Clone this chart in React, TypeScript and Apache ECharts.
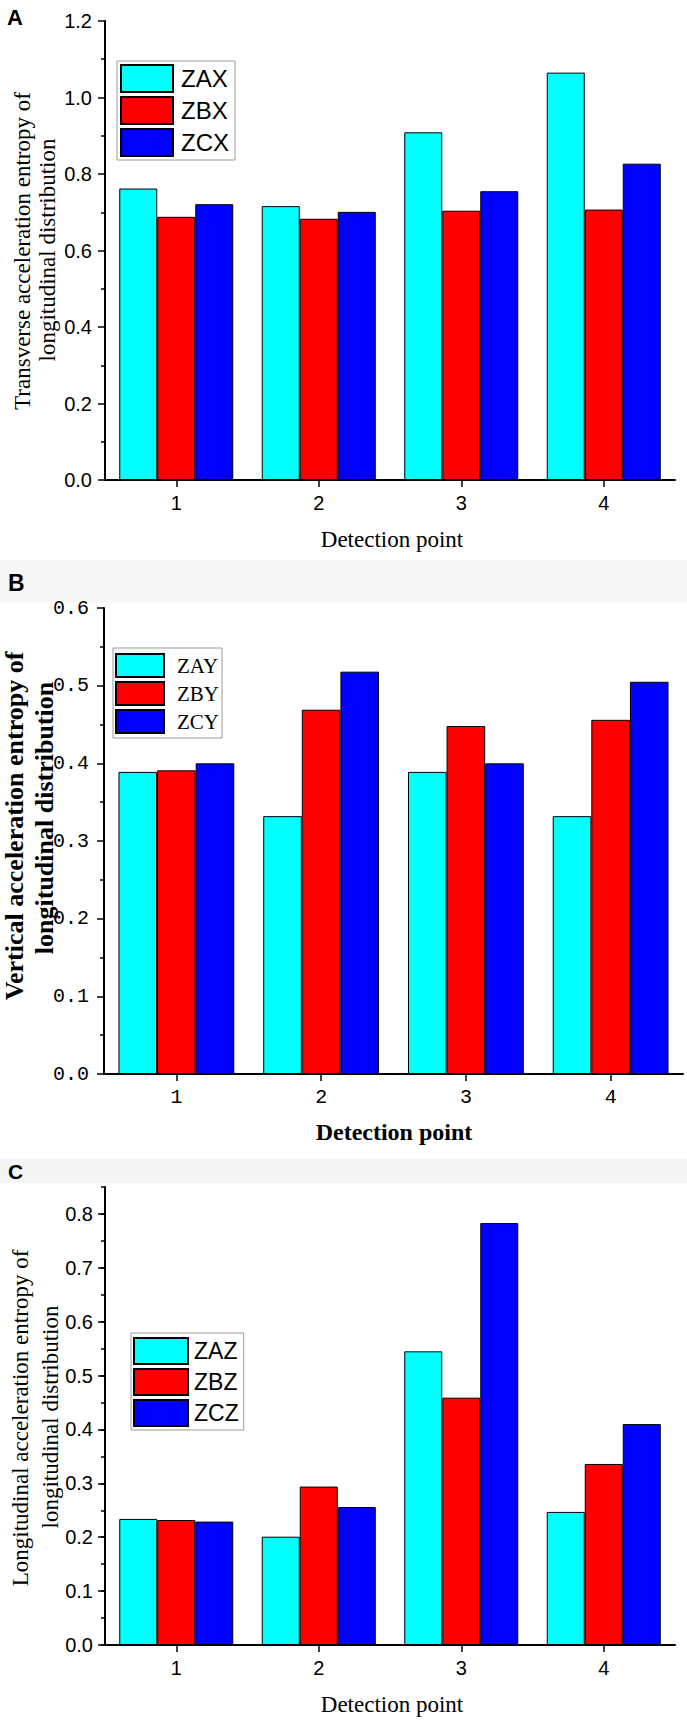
import React, { useEffect, useRef } from "react";
import * as echarts from "echarts";

// Detection points shared by the three panels
const detectionPoints = ["1", "2", "3", "4"];

// Panel A: transverse acceleration entropy
const transverseNames = ["ZAX", "ZBX", "ZCX"];
const zax = [0.762, 0.716, 0.909, 1.065];
const zbx = [0.688, 0.683, 0.704, 0.707];
const zcx = [0.721, 0.701, 0.755, 0.827];

// Panel B: vertical acceleration entropy
const verticalNames = ["ZAY", "ZBY", "ZCY"];
const zay = [0.389, 0.332, 0.389, 0.332];
const zby = [0.391, 0.469, 0.448, 0.456];
const zcy = [0.4, 0.518, 0.4, 0.505];

// Panel C: longitudinal acceleration entropy
const longitudinalNames = ["ZAZ", "ZBZ", "ZCZ"];
const zaz = [0.234, 0.201, 0.545, 0.247];
const zbz = [0.232, 0.294, 0.459, 0.336];
const zcz = [0.229, 0.256, 0.783, 0.41];

const barColors = ["#00ffff", "#ff0000", "#0000ff"];

const SANS = "Liberation Sans";
const SERIF = "Liberation Serif";
const MONO = "Liberation Mono";

const black = { color: "#000", width: 2 };
const thin = { color: "#000", width: 1.5 };

function categoryAxis(gridIndex: number, fontFamily: string, fontSize: number) {
  return {
    type: "category",
    gridIndex,
    data: detectionPoints,
    axisLine: { show: true, lineStyle: black },
    axisTick: { show: true, alignWithLabel: true, length: 7, lineStyle: thin },
    axisLabel: { margin: 13, color: "#000", fontFamily, fontSize },
    splitLine: { show: false },
  };
}

function valueAxis(
  gridIndex: number,
  max: number,
  interval: number,
  fontFamily: string,
  fontSize: number,
  margin: number,
  withMinor: boolean,
  labelValues?: number[]
) {
  const axis: any = {
    type: "value",
    gridIndex,
    position: "left",
    min: 0,
    max,
    interval,
    axisLine: { show: true, lineStyle: black },
    axisTick: { show: true, length: 7, lineStyle: thin },
    minorTick: { show: withMinor, splitNumber: 2, length: 4, lineStyle: thin },
    splitLine: { show: false },
    axisLabel: {
      margin,
      color: "#000",
      fontFamily,
      fontSize,
      formatter: (v: number) => v.toFixed(1),
    },
  };
  if (labelValues) {
    axis.axisTick.customValues = labelValues;
    axis.axisLabel.customValues = labelValues;
  }
  return axis;
}

function bars(names: string[], values: number[][], axisIndex: number, yIndex: number) {
  return names.map((name, i) => ({
    type: "bar",
    name,
    xAxisIndex: axisIndex,
    yAxisIndex: yIndex,
    data: values[i],
    barGap: "0%",
    barCategoryGap: "20%",
    itemStyle: { color: barColors[i], borderColor: "#000", borderWidth: 1 },
  }));
}

function legend(
  names: string[],
  left: number,
  top: number,
  itemWidth: number,
  itemHeight: number,
  padding: number[],
  fontFamily: string,
  fontSize: number,
  textGap: number
) {
  return {
    data: names,
    orient: "vertical",
    left,
    top,
    itemWidth,
    itemHeight,
    itemGap: 3,
    padding,
    icon: "rect",
    borderColor: "#9a9a9a",
    borderWidth: 1,
    backgroundColor: "#fff",
    selectedMode: false,
    textStyle: {
      color: "#000",
      fontFamily,
      fontSize,
      lineHeight: itemHeight,
      padding: [0, 0, 0, textGap],
    },
  };
}

function text(x: number, y: number, t: string, font: string, vertical = false, align = "center") {
  return {
    type: "text",
    x,
    y,
    rotation: vertical ? Math.PI / 2 : 0,
    z: 10,
    style: { text: t, font, fill: "#000", align, verticalAlign: "middle" },
  };
}

const C_MAJOR = [0, 0.1, 0.2, 0.3, 0.4, 0.5, 0.6, 0.7, 0.8];

export default function App() {
  const ref = useRef<HTMLDivElement>(null);

  useEffect(() => {
    if (!ref.current) return;
    const chart = echarts.init(ref.current, null, { renderer: "svg" });

    const cMinor: any = {
      type: "value",
      gridIndex: 2,
      position: "left",
      min: 0,
      max: 0.85,
      interval: 0.05,
      axisLine: { show: false },
      axisTick: { show: true, length: 4, lineStyle: thin },
      axisLabel: { show: false },
      splitLine: { show: false },
    };

    chart.setOption({
      animation: false,
      backgroundColor: "#fff",
      grid: [
        { left: 105, top: 21, width: 570, height: 459 },
        { left: 104, top: 608, width: 579, height: 466 },
        { left: 105, top: 1187, width: 570, height: 458 },
      ],
      xAxis: [
        categoryAxis(0, SANS, 20),
        categoryAxis(1, MONO, 20),
        categoryAxis(2, SANS, 20),
      ],
      yAxis: [
        valueAxis(0, 1.2, 0.2, SANS, 20, 13, true),
        valueAxis(1, 0.6, 0.1, MONO, 20, 15, true),
        valueAxis(2, 0.85, 0.1, SANS, 20, 12, false, C_MAJOR),
        cMinor,
      ],
      legend: [
        legend(transverseNames, 117, 61, 52, 27, [3, 6, 3, 3], SANS, 24, 3),
        legend(verticalNames, 113, 648, 48, 23, [5, 3, 4, 2], SERIF, 21, 8),
        legend(longitudinalNames, 131, 1333, 54, 26, [4, 5, 3, 2], SANS, 23, 1),
      ],
      graphic: [
        { type: "rect", shape: { x: 0, y: 560, width: 687, height: 43 }, style: { fill: "#f7f7f7" }, z: -1 },
        { type: "rect", shape: { x: 0, y: 1159, width: 687, height: 24 }, style: { fill: "#f5f5f5" }, z: -1 },
        text(7, 17, "A", `bold 22px ${SANS}`, false, "left"),
        text(8, 583, "B", `bold 23px ${SANS}`, false, "left"),
        text(8, 1171, "C", `bold 21px ${SANS}`, false, "left"),
        text(22, 251, "Transverse acceleration entropy of", `23px ${SERIF}`, true),
        text(47, 250, "longitudinal distribution", `23px ${SERIF}`, true),
        text(392, 539, "Detection point", `23px ${SERIF}`),
        text(14, 826, "Vertical acceleration entropy of", `bold 26px ${SERIF}`, true),
        text(44, 818, "longitudinal distribution", `bold 26px ${SERIF}`, true),
        text(394, 1132, "Detection point", `bold 24px ${SERIF}`),
        text(20, 1418, "Longitudinal acceleration entropy of", `23px ${SERIF}`, true),
        text(50, 1417, "longitudinal distribution", `23px ${SERIF}`, true),
        text(392, 1704, "Detection point", `23px ${SERIF}`),
      ],
      series: [
        ...bars(transverseNames, [zax, zbx, zcx], 0, 0),
        ...bars(verticalNames, [zay, zby, zcy], 1, 1),
        ...bars(longitudinalNames, [zaz, zbz, zcz], 2, 2),
      ],
    });

    return () => chart.dispose();
  }, []);

  return (
    <div
      ref={ref}
      style={{ position: "absolute", left: 0, top: 0, width: 687, height: 1729, background: "#fff" }}
    />
  );
}
